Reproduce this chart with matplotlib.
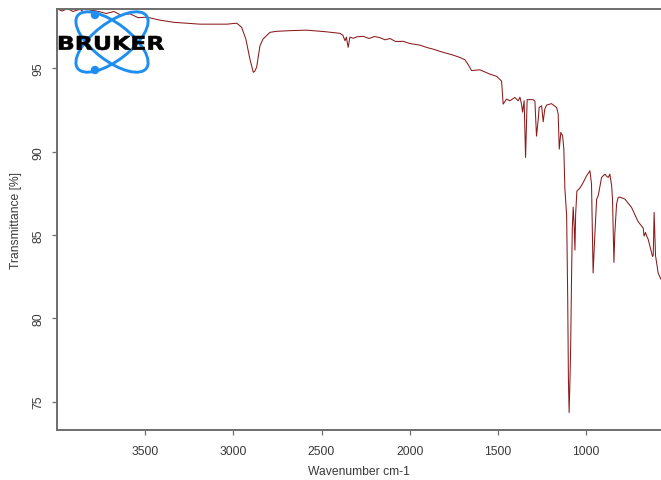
"""Bruker FT-IR transmittance spectrum, redrawn with matplotlib."""
import matplotlib
matplotlib.use("Agg")
import matplotlib.pyplot as plt
from matplotlib.patches import Ellipse, Circle, PathPatch
from matplotlib.textpath import TextPath
from matplotlib.font_manager import FontProperties
from matplotlib.transforms import Affine2D

plt.rcParams["font.family"] = ["Liberation Sans", "DejaVu Sans"]

# spectrum (wavenumber in cm-1, transmittance in %)
wavenumber = [4000, 3970, 3940, 3910, 3870, 3840, 3800, 3756, 3720, 3677, 3640, 3586,
              3540, 3490, 3416, 3337, 3189, 3036, 2981, 2953, 2929, 2906, 2887, 2878,
              2868, 2861, 2849, 2832, 2815, 2792, 2755, 2679, 2584, 2481, 2396, 2379,
              2367, 2359, 2349, 2339, 2320, 2300, 2264, 2230, 2200, 2169, 2140, 2112,
              2080, 2037, 2000, 1942, 1900, 1867, 1820, 1753, 1715, 1687, 1670, 1649,
              1625, 1602, 1545, 1507, 1479, 1470, 1451, 1432, 1404, 1385, 1375, 1366,
              1360, 1351, 1343, 1334, 1300, 1290, 1281, 1271, 1266, 1252, 1243, 1234,
              1224, 1196, 1167, 1158, 1152, 1143, 1133, 1126, 1120, 1110, 1104, 1100,
              1096, 1091, 1087, 1082, 1078, 1073, 1067, 1063, 1059, 1052, 1035, 1016,
              997, 978, 969, 960, 950, 940, 931, 912, 893, 882, 874, 865,
              855, 850, 842, 837, 827, 818, 808, 780, 742, 705, 676, 671,
              663, 657, 648, 623, 619, 614, 606, 591, 576]
transmittance = [98.57, 98.45, 98.60, 98.42, 98.55, 98.35, 98.50, 98.40, 98.30, 98.42, 98.22, 98.28,
                 98.05, 98.08, 97.90, 97.77, 97.66, 97.66, 97.72, 97.47, 96.76, 95.56, 94.77, 94.84,
                 95.08, 95.56, 96.36, 96.76, 96.94, 97.17, 97.23, 97.27, 97.30, 97.21, 97.11, 97.00,
                 96.66, 96.88, 96.27, 96.88, 96.81, 96.90, 96.93, 96.80, 96.92, 96.85, 96.72, 96.80,
                 96.62, 96.63, 96.50, 96.40, 96.25, 96.16, 96.00, 95.80, 95.66, 95.52, 95.26, 94.87,
                 94.90, 94.92, 94.66, 94.53, 94.24, 92.86, 93.16, 93.06, 93.26, 93.06, 93.28, 92.86,
                 92.38, 93.06, 89.66, 93.13, 93.13, 93.04, 90.94, 91.96, 92.66, 92.76, 91.80, 92.56,
                 92.80, 92.89, 92.66, 92.26, 90.16, 91.16, 90.96, 90.16, 87.76, 86.16, 81.16, 76.36,
                 74.35, 76.36, 78.46, 82.66, 85.36, 86.68, 85.48, 84.10, 86.26, 87.64, 87.82, 88.16,
                 88.56, 88.86, 88.06, 82.72, 85.06, 87.16, 87.36, 88.46, 88.66, 88.51, 88.46, 88.66,
                 87.96, 87.16, 83.36, 85.06, 86.86, 87.26, 87.28, 87.16, 86.66, 85.81, 85.42, 84.94,
                 85.16, 84.96, 84.76, 83.71, 83.80, 86.36, 83.76, 82.72, 82.36]

x_ticks = [3500, 3000, 2500, 2000, 1500, 1000]
y_ticks = [75, 80, 85, 90, 95]

W, H = 661, 481
LINE_COLOR = "#8b1a1a"
AXIS_COLOR = "#6e6e6e"
TEXT_COLOR = "#3a3a3a"
LOGO_BLUE = "#1f8ef1"


def draw_logo(fig):
    # overlay in pixel units, y pointing down
    lay = fig.add_axes([0, 0, 1, 1], zorder=5)
    lay.set_xlim(0, W)
    lay.set_ylim(H, 0)
    lay.axis("off")
    lay.patch.set_alpha(0)

    cx, cy = 112, 43
    for ang in (37.6, -37.6):
        lay.add_patch(Ellipse((cx, cy), 86.6, 37, angle=ang, fill=False,
                              edgecolor=LOGO_BLUE, linewidth=2.1))
    for dx, dy in [(95, 16), (95, 71)]:
        lay.add_patch(Circle((dx, dy), 3.5, color=LOGO_BLUE))

    tp = TextPath((0, 0), "BRUKER", size=20,
                  prop=FontProperties(family="DejaVu Sans", weight="bold"))
    ext = tp.get_extents()
    sx = (164 - 59) / ext.width
    sy = (51 - 37) / ext.height
    tr = Affine2D().translate(-ext.x0, -ext.y0).scale(sx, -sy).translate(59, 51)
    lay.add_patch(PathPatch(tr.transform_path(tp), facecolor="black",
                            edgecolor="black", linewidth=0.4))


def main() -> None:
    fig = plt.figure(figsize=(W / 100, H / 100), dpi=100)
    ax = fig.add_axes([57 / W, (H - 431) / H, (W - 57) / W, (431 - 10) / H])

    ax.plot(wavenumber, transmittance, color=LINE_COLOR, linewidth=0.75)

    ax.set_xlim(4000, 575)
    ax.set_ylim(73.3, 98.57)
    ax.set_xticks(x_ticks)
    ax.set_yticks(y_ticks)
    ax.set_yticklabels([str(v) for v in y_ticks], rotation=90, va="center")

    for side in ("top", "left", "bottom"):
        ax.spines[side].set_color(AXIS_COLOR)
        ax.spines[side].set_linewidth(1.4)
    ax.spines["right"].set_visible(False)
    ax.tick_params(direction="out", length=3.8, width=0.9, color=AXIS_COLOR,
                   labelcolor=TEXT_COLOR, labelsize=8.7)
    ax.tick_params(axis="x", pad=7)
    ax.tick_params(axis="y", pad=5)

    ax.set_xlabel("Wavenumber cm-1", fontsize=8.7, color=TEXT_COLOR, labelpad=6)
    ax.set_ylabel("Transmittance [%]", fontsize=8.7, color=TEXT_COLOR, labelpad=8)

    draw_logo(fig)

    fig.savefig("out.png", dpi=100)


if __name__ == "__main__":
    main()
